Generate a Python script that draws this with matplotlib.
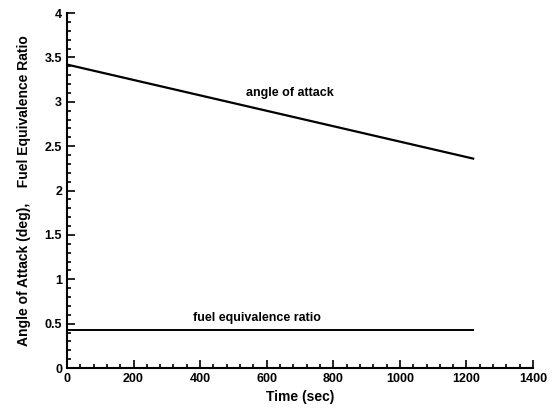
import matplotlib
matplotlib.use("Agg")
import matplotlib.pyplot as plt
from matplotlib.ticker import MultipleLocator

time_aoa = [0, 1220]
aoa = [3.42, 2.36]
time_fuel = [0, 1220]
fuel = [0.43, 0.43]
xticks = [0, 200, 400, 600, 800, 1000, 1200, 1400]
xticklabels = ['0', '200', '400', '600', '800', '1000', '1200', '1400']
yticks = [0, 0.5, 1, 1.5, 2, 2.5, 3, 3.5, 4]
yticklabels = ['0', '0.5', '1', '1.5', '2', '2.5', '3', '3.5', '4']

plt.rcParams['font.family'] = ['Liberation Sans', 'DejaVu Sans']
plt.rcParams['font.weight'] = 'bold'

fig = plt.figure(figsize=(5.53, 4.08), dpi=100)
ax = fig.add_axes([0.121, 0.098, 0.843, 0.870])
ax.plot(time_aoa, aoa, color='black', lw=1.6)
ax.plot(time_fuel, fuel, color='black', lw=1.4)
ax.set_xlim(0, 1400)
ax.set_ylim(0, 4)
ax.set_xticks(xticks)
ax.set_xticklabels(xticklabels)
ax.set_yticks(yticks)
ax.set_yticklabels(yticklabels)
ax.xaxis.set_minor_locator(MultipleLocator(40))
ax.yaxis.set_minor_locator(MultipleLocator(0.1))
ax.tick_params(which='both', direction='in', labelsize=9, width=1.2)
ax.tick_params(which='major', length=6)
ax.tick_params(which='minor', length=3)
for s in ['top', 'right']:
    ax.spines[s].set_visible(False)
for s in ['left', 'bottom']:
    ax.spines[s].set_linewidth(1.5)
ax.set_xlabel('Time (sec)', fontsize=10, fontweight='bold', labelpad=4)
ax.set_ylabel('Angle of Attack (deg),    Fuel Equivalence Ratio', fontsize=10, fontweight='bold', labelpad=10)
ax.text(670, 3.1, 'angle of attack', fontsize=9, fontweight='bold', ha='center', va='center')
ax.text(571, 0.56, 'fuel equivalence ratio', fontsize=9, fontweight='bold', ha='center', va='center')
fig.savefig('out.png', dpi=100)
